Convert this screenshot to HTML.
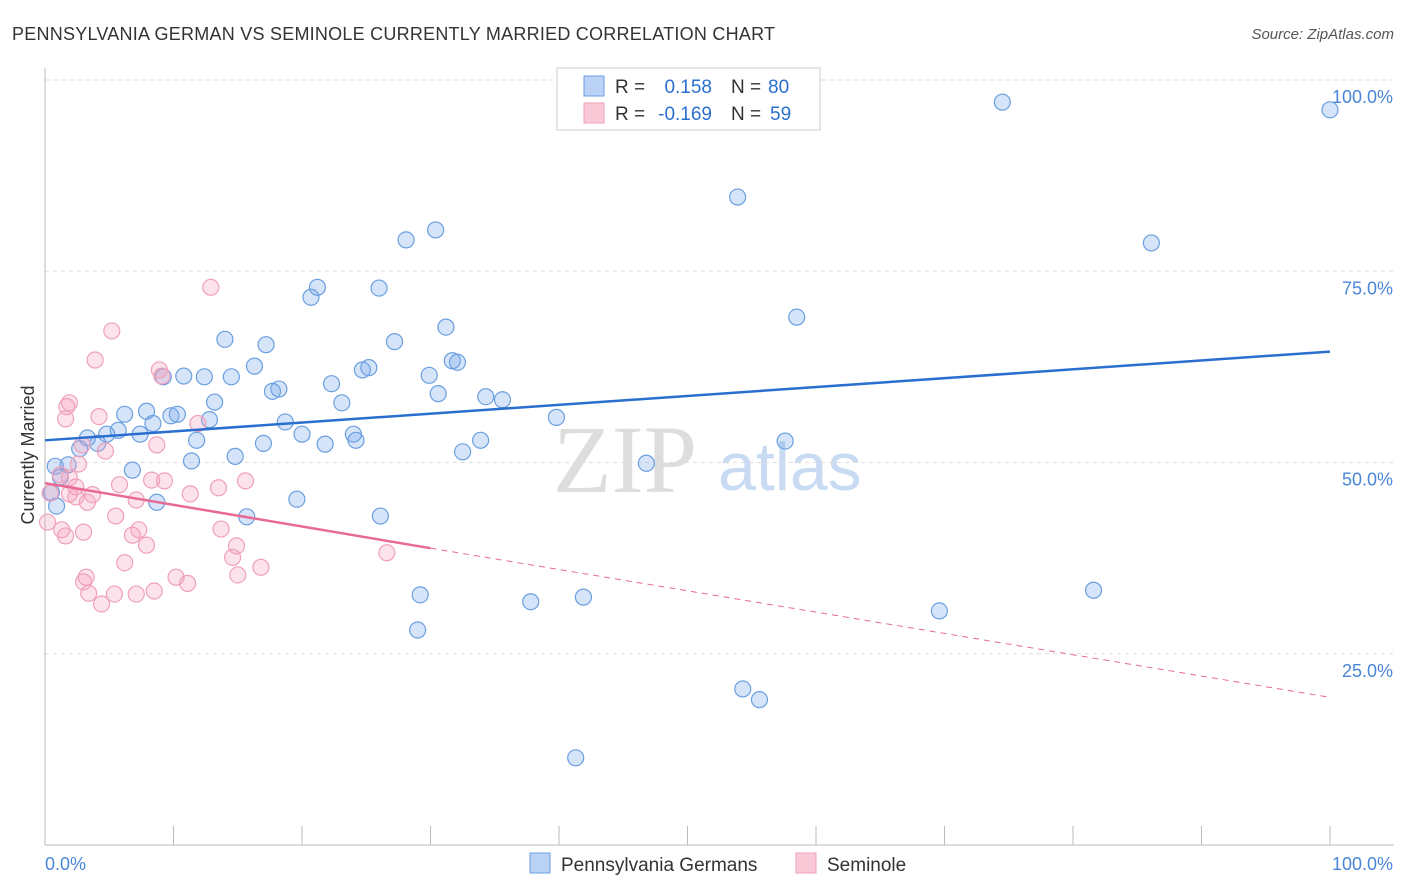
<!DOCTYPE html>
<html><head><meta charset="utf-8"><style>
body{margin:0;background:#fff;font-family:"Liberation Sans",sans-serif}
svg{display:block}
</style></head><body>
<svg id="chart" width="1406" height="892" xmlns="http://www.w3.org/2000/svg">
<text x="12" y="40" font-size="18" fill="#333" textLength="763">PENNSYLVANIA GERMAN VS SEMINOLE CURRENTLY MARRIED CORRELATION CHART</text>
<text x="1394" y="39" font-size="15" fill="#555" font-style="italic" text-anchor="end">Source: ZipAtlas.com</text>
<text x="34" y="455" font-size="18" fill="#333" text-anchor="middle" transform="rotate(-90 34 455)">Currently Married</text>
<text x="553" y="492" font-size="96" fill="#ddd" font-family="Liberation Serif">ZIP</text>
<text x="718" y="490" font-size="68" fill="#c8dbf2">atlas</text>
<g id="grid"></g><g id="axes"></g><g id="pts"></g><g id="trend"></g>
<g font-size="19">
<rect x="557" y="68" width="263" height="62" fill="#fff" stroke="#ccc"/>
<rect x="584" y="76" width="20" height="20" fill="#b9d2f5" stroke="#6a9fe0"/>
<rect x="584" y="103" width="20" height="20" fill="#f9c9d8" stroke="#f0a0bb"/>
<text x="615" y="93" fill="#333">R =</text>
<text x="712" y="93" fill="#2a6fd0" text-anchor="end">0.158</text>
<text x="731" y="93" fill="#333">N =</text>
<text x="768" y="93" fill="#2a6fd0">80</text>
<text x="615" y="120" fill="#333">R =</text>
<text x="712" y="120" fill="#2a6fd0" text-anchor="end">-0.169</text>
<text x="731" y="120" fill="#333">N =</text>
<text x="770" y="120" fill="#2a6fd0">59</text>
</g>
<g>
<rect x="530" y="853" width="20" height="20" fill="#b9d2f5" stroke="#6a9fe0"/>
<text x="561" y="871" font-size="19" fill="#333">Pennsylvania Germans</text>
<rect x="796" y="853" width="20" height="20" fill="#f9c9d8" stroke="#f0a0bb"/>
<text x="827" y="871" font-size="19" fill="#333">Seminole</text>
</g>
</svg>
<script>
const blueX=[74.5,100,53.9,86.1,28.1,30.4,21.2,20.7,26.0,58.5,14.0,31.2,27.2,17.2,16.3,25.2,24.7,31.7,32.1,29.9,9.2,10.8,12.4,14.5,22.3,18.2,17.7,30.6,34.3,35.6,13.2,23.1,7.9,6.2,9.8,10.3,39.8,12.8,18.7,8.4,5.7,7.4,4.8,20.0,24.0,3.3,24.2,11.8,33.9,57.6,4.1,17.0,21.8,2.7,32.5,14.8,11.4,46.8,1.8,0.8,6.8,1.2,0.5,19.6,8.7,0.9,15.7,26.1,81.6,29.2,41.9,37.8,69.6,29.0,54.3,55.6,41.3];
const blueY=[97.1,96.1,84.7,78.7,79.1,80.4,72.9,71.6,72.8,69.0,66.1,67.7,65.8,65.4,62.6,62.4,62.1,63.3,63.1,61.4,61.2,61.3,61.2,61.2,60.3,59.6,59.3,59.0,58.6,58.2,57.9,57.8,56.7,56.3,56.1,56.3,55.9,55.6,55.3,55.1,54.2,53.7,53.7,53.7,53.7,53.2,52.9,52.9,52.9,52.8,52.5,52.5,52.4,51.8,51.4,50.8,50.2,49.9,49.7,49.5,49.0,48.1,46.1,45.2,44.8,44.3,42.9,43.0,33.3,32.7,32.4,31.8,30.6,28.1,20.4,19.0,11.4];
const pinkX=[12.9,5.2,3.9,8.9,9.1,1.9,1.7,1.6,4.2,11.9,8.7,2.9,4.7,2.6,1.2,1.9,8.3,9.3,5.8,15.6,13.5,2.4,0.4,1.9,3.7,2.4,11.3,3.3,7.1,5.5,0.2,13.7,7.3,1.3,3.0,6.8,1.6,14.9,7.9,26.6,14.6,6.2,16.8,15.0,10.2,3.2,3.0,11.1,3.4,5.4,8.5,7.1,4.4];
const pinkY=[72.9,67.2,63.4,62.1,61.3,57.8,57.3,55.7,56.0,55.1,52.3,52.3,51.5,49.8,48.4,48.0,47.7,47.6,47.1,47.6,46.7,46.8,46.0,45.9,45.8,45.5,45.9,44.8,45.1,43.0,42.2,41.3,41.2,41.2,40.9,40.5,40.4,39.1,39.2,38.2,37.6,36.9,36.3,35.3,35.0,35.0,34.4,34.2,32.9,32.8,33.2,32.8,31.5];
const blueTrend=[[0,52.9],[100,64.5]];
const pinkTrend=[[0,47.3],[30,38.8],[100,19.3]];
const yTicks=[100,75,50,25];
const NS="http://www.w3.org/2000/svg";
const sx=v=>45+v*12.85, sy=v=>845-v*7.65;
function mk(t,a,p){const e=document.createElementNS(NS,t);for(const k in a)e.setAttribute(k,a[k]);document.getElementById(p).appendChild(e);return e;}
yTicks.forEach(t=>{
 const l=mk('line',{x1:45,x2:1394,y1:sy(t),y2:sy(t),stroke:'#ddd','stroke-dasharray':'4,4'},'grid');
 
 
 const tx=mk('text',{x:1393,y:sy(t)+23,'font-size':18,fill:'#4a86d8','text-anchor':'end'},'grid');
 tx.textContent=t.toFixed(1)+'%';
 
 
});
mk('line',{x1:45,x2:45,y1:68,y2:845,stroke:'#bbb'},'axes');
mk('line',{x1:45,x2:1394,y1:845,y2:845,stroke:'#bbb'},'axes');
for(let i=0;i<=10;i++){mk('line',{x1:sx(i*10),x2:sx(i*10),y1:826,y2:845,stroke:'#bbb'},'axes');}
let a=mk('text',{x:45,y:870,'font-size':18,fill:'#4a86d8'},'axes');a.textContent='0.0%';

a=mk('text',{x:1393,y:870,'font-size':18,fill:'#4a86d8','text-anchor':'end'},'axes');a.textContent='100.0%';

blueX.forEach((x,i)=>{const c=mk('circle',{cx:sx(x),cy:sy(blueY[i]),r:8,fill:'rgba(120,165,235,0.3)',stroke:'#6a9fe0','stroke-width':1.2},'pts');
 
 });
pinkX.forEach((x,i)=>{const c=mk('circle',{cx:sx(x),cy:sy(pinkY[i]),r:8,fill:'rgba(245,160,190,0.3)',stroke:'#f0a0bb','stroke-width':1.2},'pts');
 
 });
let t=mk('line',{x1:sx(blueTrend[0][0]),y1:sy(blueTrend[0][1]),x2:sx(blueTrend[1][0]),y2:sy(blueTrend[1][1]),stroke:'#2a6fd0','stroke-width':2.5},'trend');

t=mk('line',{x1:sx(pinkTrend[0][0]),y1:sy(pinkTrend[0][1]),x2:sx(pinkTrend[1][0]),y2:sy(pinkTrend[1][1]),stroke:'#e86a95','stroke-width':2.5},'trend');

t=mk('line',{x1:sx(pinkTrend[1][0]),y1:sy(pinkTrend[1][1]),x2:sx(pinkTrend[2][0]),y2:sy(pinkTrend[2][1]),stroke:'#e86a95','stroke-width':1,'stroke-dasharray':'6,5'},'trend');

</script>
</body></html>
